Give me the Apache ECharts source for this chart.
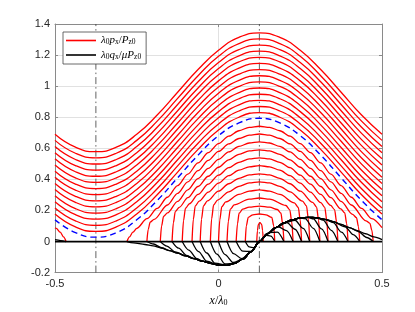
<!DOCTYPE html>
<html><head><meta charset="utf-8">
<script src="https://cdn.jsdelivr.net/npm/echarts@6/dist/echarts.min.js"></script>
<style>html,body{margin:0;padding:0;background:#fff}#c{width:415px;height:312px}</style>
</head><body><div id="c"></div>
<script>
// ---- data ----
const xGrid = [-0.5,-0.4375,-0.375,-0.3125,-0.25,-0.1875,-0.125,-0.0625,0,0.0625,0.125,0.1875,0.25,0.3125,0.375,0.4375,0.5];
// passing curves (lambda0 px / Pz0), bottom to top
const pxPassing = [
 [0.177,0.094,0.065,0.094,0.177,0.301,0.447,0.593,0.718,0.800,0.830,0.800,0.718,0.593,0.447,0.301,0.177],
 [0.216,0.133,0.104,0.133,0.216,0.340,0.487,0.633,0.757,0.840,0.869,0.840,0.757,0.633,0.487,0.340,0.216],
 [0.256,0.173,0.144,0.173,0.256,0.380,0.526,0.672,0.797,0.879,0.909,0.879,0.797,0.672,0.526,0.380,0.256],
 [0.295,0.212,0.183,0.212,0.295,0.419,0.566,0.712,0.836,0.919,0.948,0.919,0.836,0.712,0.566,0.419,0.295],
 [0.335,0.252,0.223,0.252,0.335,0.459,0.605,0.751,0.876,0.958,0.988,0.958,0.876,0.751,0.605,0.459,0.335],
 [0.374,0.291,0.262,0.291,0.374,0.498,0.645,0.791,0.915,0.998,1.027,0.998,0.915,0.791,0.645,0.498,0.374],
 [0.414,0.331,0.302,0.331,0.414,0.538,0.684,0.830,0.955,1.037,1.067,1.037,0.955,0.830,0.684,0.538,0.414],
 [0.453,0.370,0.341,0.370,0.453,0.577,0.724,0.870,0.994,1.077,1.106,1.077,0.994,0.870,0.724,0.577,0.453],
 [0.493,0.410,0.381,0.410,0.493,0.617,0.763,0.909,1.034,1.116,1.146,1.116,1.034,0.909,0.763,0.617,0.493],
 [0.532,0.449,0.420,0.449,0.532,0.656,0.803,0.949,1.073,1.156,1.185,1.156,1.073,0.949,0.803,0.656,0.532],
 [0.572,0.489,0.460,0.489,0.572,0.696,0.842,0.988,1.113,1.195,1.225,1.195,1.113,0.988,0.842,0.696,0.572],
 [0.611,0.528,0.499,0.528,0.611,0.735,0.882,1.028,1.152,1.235,1.264,1.235,1.152,1.028,0.882,0.735,0.611],
 [0.651,0.568,0.539,0.568,0.651,0.775,0.921,1.067,1.192,1.274,1.304,1.274,1.192,1.067,0.921,0.775,0.651],
 [0.690,0.607,0.578,0.607,0.690,0.814,0.961,1.107,1.231,1.314,1.343,1.314,1.231,1.107,0.961,0.814,0.690]
];
// blue dashed separating curve
const pxSeparatrix = [0.140,0.057,0.028,0.057,0.140,0.264,0.410,0.556,0.681,0.763,0.793,0.763,0.681,0.556,0.410,0.264,0.140];
// trapped curves [x, y]: rise from rest, follow the wave, fall back to zero
const pxTrapped = [
 [[-0.28,0],[-0.272,0.03],[-0.262,0.06],[-0.25,0.085],[-0.21875,0.147],[-0.1875,0.213],[-0.15625,0.285],[-0.125,0.36],[-0.09375,0.434],[-0.0625,0.506],[-0.03125,0.572],[0,0.63],[0.03125,0.678],[0.0625,0.713],[0.09375,0.735],[0.125,0.742],[0.15625,0.735],[0.1875,0.713],[0.21875,0.678],[0.25,0.63],[0.28125,0.572],[0.3125,0.506],[0.34375,0.434],[0.375,0.36],[0.40625,0.285],[0.4375,0.213],[0.46875,0.147],[0.5,0.089]],
 [[-0.219,0],[-0.215,0.078],[-0.209,0.125],[-0.197,0.142],[-0.15625,0.235],[-0.125,0.31],[-0.09375,0.384],[-0.0625,0.456],[-0.03125,0.522],[0,0.58],[0.03125,0.628],[0.0625,0.663],[0.09375,0.685],[0.125,0.692],[0.15625,0.685],[0.1875,0.663],[0.21875,0.628],[0.25,0.58],[0.28125,0.522],[0.3125,0.456],[0.34375,0.384],[0.375,0.31],[0.40625,0.235],[0.451,0.133],[0.463,0.117],[0.469,0.073],[0.473,0]],
 [[-0.178,0],[-0.174,0.101],[-0.168,0.162],[-0.156,0.184],[-0.125,0.2585],[-0.09375,0.333],[-0.0625,0.405],[-0.03125,0.471],[0,0.529],[0.03125,0.577],[0.0625,0.612],[0.09375,0.634],[0.125,0.641],[0.15625,0.634],[0.1875,0.612],[0.21875,0.577],[0.25,0.529],[0.28125,0.471],[0.3125,0.405],[0.34375,0.333],[0.375,0.2585],[0.41,0.175],[0.422,0.154],[0.428,0.096],[0.432,0]],
 [[-0.142,0],[-0.138,0.121],[-0.132,0.194],[-0.12,0.22],[-0.09375,0.282],[-0.0625,0.354],[-0.03125,0.42],[0,0.478],[0.03125,0.526],[0.0625,0.561],[0.09375,0.583],[0.125,0.59],[0.15625,0.583],[0.1875,0.561],[0.21875,0.526],[0.25,0.478],[0.28125,0.42],[0.3125,0.354],[0.34375,0.282],[0.374,0.21],[0.386,0.185],[0.392,0.116],[0.396,0]],
 [[-0.111,0],[-0.107,0.134],[-0.101,0.214],[-0.089,0.243],[-0.0625,0.303],[-0.03125,0.369],[0,0.427],[0.03125,0.475],[0.0625,0.51],[0.09375,0.532],[0.125,0.539],[0.15625,0.532],[0.1875,0.51],[0.21875,0.475],[0.25,0.427],[0.28125,0.369],[0.3125,0.303],[0.343,0.233],[0.355,0.205],[0.361,0.128],[0.365,0]],
 [[-0.081,0],[-0.077,0.143],[-0.071,0.229],[-0.059,0.26],[-0.03125,0.318],[0,0.376],[0.03125,0.424],[0.0625,0.459],[0.09375,0.481],[0.125,0.488],[0.15625,0.481],[0.1875,0.459],[0.21875,0.424],[0.25,0.376],[0.28125,0.318],[0.313,0.25],[0.325,0.22],[0.331,0.138],[0.335,0]],
 [[-0.056,0],[-0.052,0.144],[-0.046,0.23],[-0.034,0.261],[0,0.324],[0.03125,0.372],[0.0625,0.407],[0.09375,0.429],[0.125,0.436],[0.15625,0.429],[0.1875,0.407],[0.21875,0.372],[0.25,0.324],[0.288,0.252],[0.3,0.222],[0.306,0.139],[0.31,0]],
 [[-0.025,0],[-0.021,0.147],[-0.015,0.235],[-0.003,0.267],[0.03125,0.32],[0.0625,0.355],[0.09375,0.377],[0.125,0.384],[0.15625,0.377],[0.1875,0.355],[0.21875,0.32],[0.257,0.26],[0.269,0.229],[0.275,0.143],[0.279,0]],
 [[0,0],[0.004,0.14],[0.01,0.224],[0.022,0.255],[0.0625,0.303],[0.09375,0.325],[0.125,0.332],[0.15625,0.325],[0.1875,0.303],[0.232,0.249],[0.244,0.219],[0.25,0.137],[0.254,0]],
 [[0.026,0],[0.03,0.13],[0.036,0.208],[0.048,0.236],[0.09375,0.273],[0.125,0.28],[0.15625,0.273],[0.206,0.232],[0.218,0.204],[0.224,0.127],[0.228,0]],
 [[0.054,0],[0.058,0.114],[0.063,0.182],[0.074,0.208],[0.09375,0.221],[0.125,0.228],[0.15625,0.221],[0.18,0.206],[0.191,0.182],[0.196,0.114],[0.2,0]],
 [[0.082,0],[0.085,0.1],[0.091,0.155],[0.105,0.172],[0.125,0.177],[0.145,0.172],[0.163,0.155],[0.169,0.1],[0.172,0]],
 [[0.117,0],[0.119,0.07],[0.122,0.11],[0.127,0.122],[0.132,0.11],[0.135,0.07],[0.137,0]]
];
// end of the first trapped curve, re-entering at the left edge
const pxWrap = [[-0.5,0.089],[-0.496,0.085],[-0.484,0.06],[-0.474,0.03],[-0.466,0]];
// lambda0 qx / mu Pz0 : outer envelope of the black bundle
const qEnvelope = [[-0.3,-0.004],[-0.275,-0.007],[-0.25,-0.012],[-0.225,-0.019],[-0.2,-0.028],[-0.175,-0.042],[-0.15,-0.058],[-0.125,-0.075],[-0.1,-0.093],[-0.075,-0.11],[-0.05,-0.126],[-0.025,-0.14],[0,-0.151],[0.025,-0.153],[0.05,-0.14],[0.075,-0.112],[0.1,-0.065],[0.125,0],[0.15,0.05],[0.175,0.09],[0.2,0.12],[0.225,0.14],[0.25,0.152],[0.275,0.156],[0.3,0.153],[0.325,0.143],[0.35,0.128],[0.375,0.11],[0.4,0.09],[0.425,0.07],[0.45,0.05],[0.475,0.03],[0.5,0.012]];
// where each black curve leaves zero (left) and comes back to zero (right)
const qLeft = [
 [[-0.28,0],[-0.26,-0.009]],
 [[-0.219,0],[-0.199,-0.016],[-0.174,-0.04]],
 [[-0.178,0],[-0.158,-0.029],[-0.133,-0.066]],
 [[-0.142,0],[-0.122,-0.042],[-0.097,-0.09]],
 [[-0.111,0],[-0.091,-0.055],[-0.066,-0.11]],
 [[-0.081,0],[-0.061,-0.065],[-0.036,-0.127]],
 [[-0.056,0],[-0.036,-0.074],[-0.011,-0.139]],
 [[-0.025,0],[-0.005,-0.081],[0.02,-0.144]],
 [[0,0],[0.02,-0.084],[0.045,-0.135]],
 [[0.026,0],[0.046,-0.078],[0.071,-0.11]],
 [[0.054,0],[0.074,-0.062],[0.099,-0.064]],
 [[0.082,0],[0.094,-0.035],[0.108,-0.04]],
 [[0.117,0],[0.121,-0.008]]
];
const qRight = [
 [[0.5,0.012]],
 [[0.428,0.064],[0.453,0.026],[0.473,0]],
 [[0.387,0.095],[0.412,0.044],[0.432,0]],
 [[0.351,0.121],[0.376,0.06],[0.396,0]],
 [[0.32,0.138],[0.345,0.072],[0.365,0]],
 [[0.29,0.146],[0.315,0.081],[0.335,0]],
 [[0.265,0.147],[0.29,0.085],[0.31,0]],
 [[0.234,0.137],[0.259,0.084],[0.279,0]],
 [[0.209,0.121],[0.234,0.079],[0.254,0]],
 [[0.183,0.095],[0.208,0.07],[0.228,0]],
 [[0.155,0.058],[0.18,0.06],[0.2,0]],
 [[0.146,0.04],[0.16,0.035],[0.172,0]],
 [[0.13,0.008],[0.137,0]]
];
const qWrap = [[-0.5,0.012],[-0.483,0.006],[-0.466,0]];
const zeroLine = [[-0.5,0],[0.5,0]];
const markX = [-0.375, 0.125];
const xTicks = [-0.5, 0, 0.5];
const yTicks = [-0.2, 0, 0.2, 0.4, 0.6, 0.8, 1, 1.2, 1.4];

// ---- chart ----
const RED = '#ff0000', BLACK = '#000000', BLUE = '#0000ff';
const series = [];
markX.forEach(x => series.push({type:'line', data:[[x, yTicks[0]],[x, yTicks[yTicks.length-1]]], symbol:'none', silent:true,
  lineStyle:{color:'#3a3a3a', width:0.8, type:[7,3,1.5,3]}}));
pxPassing.forEach(arr => series.push({name:'px', type:'line', symbol:'none', smooth:true,
  data: xGrid.map((x,i)=>[x, arr[i]]), lineStyle:{color:RED, width:1.3}, itemStyle:{color:RED}}));
pxTrapped.concat([pxWrap]).forEach(pts => series.push({name:'px', type:'line', symbol:'none', smooth:0.3, smoothMonotone:'x',
  data: pts, lineStyle:{color:RED, width:1.3}, itemStyle:{color:RED}}));
series.push({name:'sep', type:'line', symbol:'none', smooth:true, data: xGrid.map((x,i)=>[x, pxSeparatrix[i]]),
  lineStyle:{color:BLUE, width:1.4, type:[6,4]}, itemStyle:{color:BLUE}});
series.push({name:'qx', type:'line', symbol:'none', data: zeroLine, lineStyle:{color:BLACK, width:1.8}, itemStyle:{color:BLACK}});
qLeft.forEach((L, j) => {
  const R = qRight[j];
  const a = L[L.length-1][0] + 0.012, b = R[0][0] - 0.012;
  const pts = L.concat(qEnvelope.filter(p => p[0] > a && p[0] < b), R);
  series.push({name:'qx', type:'line', symbol:'none', smooth:0.3, smoothMonotone:'x', data: pts,
    lineStyle:{color:BLACK, width:1.3}, itemStyle:{color:BLACK}});
});
series.push({name:'qx', type:'line', symbol:'none', smooth:0.3, data: qWrap, lineStyle:{color:BLACK, width:1.3}, itemStyle:{color:BLACK}});

const serif = 'Liberation Serif';
const rich = {
  n:{fontFamily:serif, fontSize:11, lineHeight:12, color:'#000'},
  i:{fontFamily:serif, fontStyle:'italic', fontSize:11, lineHeight:12, color:'#000'},
  s:{fontFamily:serif, fontSize:7.5, lineHeight:7, verticalAlign:'bottom', color:'#000'}
};
const axisCol = '#8a8a8a';
const fmt = v => String(parseFloat(Number(v).toFixed(2)));
const chart = echarts.init(document.getElementById('c'), null, {renderer:'canvas'});
chart.setOption({
  animation:false,
  backgroundColor:'#fff',
  grid:{left:55, right:33, top:24, bottom:32},
  legend:{data:['px','qx'], left:63, top:32, orient:'vertical', icon:'rect', itemWidth:30, itemHeight:1.6, itemGap:3,
    padding:[3,5,3,3], borderColor:'#444', borderWidth:0.8, backgroundColor:'#fff', selectedMode:false,
    formatter: n => n==='px' ? '{i|λ}{s|0}{i|p}{s|x}{n|/}{i|P}{s|z0}' : '{i|λ}{s|0}{i|q}{s|x}{n|/}{i|μP}{s|z0}',
    textStyle:{rich}},
  xAxis:[{type:'value', min:xTicks[0], max:xTicks[xTicks.length-1], interval:0.5,
      axisLine:{onZero:false, lineStyle:{color:axisCol, width:1}}, axisTick:{inside:true, length:3, lineStyle:{color:axisCol}},
      splitLine:{show:true, lineStyle:{color:'#e1e1e1', width:1}},
      axisLabel:{color:'#262626', fontFamily:'Liberation Sans', fontSize:11, margin:6, formatter:fmt},
      name:'{i|x}{n|/}{i|λ}{s|0}', nameLocation:'middle', nameGap:21,
      nameTextStyle:{rich:{i:{fontFamily:serif, fontStyle:'italic', fontSize:12, lineHeight:13, color:'#000'},
        n:{fontFamily:serif, fontSize:12, lineHeight:13, color:'#000'},
        s:{fontFamily:serif, fontSize:8, lineHeight:8, verticalAlign:'bottom', color:'#000'}}}},
    {type:'value', position:'top', min:xTicks[0], max:xTicks[xTicks.length-1], interval:0.5,
      axisLine:{show:true, onZero:false, lineStyle:{color:axisCol, width:1}}, axisTick:{inside:true, length:3, lineStyle:{color:axisCol}},
      axisLabel:{show:false}, splitLine:{show:false}}],
  yAxis:[{type:'value', min:yTicks[0], max:yTicks[yTicks.length-1], interval:0.2,
      axisLine:{show:true, onZero:false, lineStyle:{color:axisCol, width:1}}, axisTick:{show:true, inside:true, length:3, lineStyle:{color:axisCol}},
      splitLine:{show:true, lineStyle:{color:'#e1e1e1', width:1}},
      axisLabel:{color:'#262626', fontFamily:'Liberation Sans', fontSize:11, margin:5, formatter:fmt}},
    {type:'value', position:'right', min:yTicks[0], max:yTicks[yTicks.length-1], interval:0.2,
      axisLine:{show:true, onZero:false, lineStyle:{color:axisCol, width:1}}, axisTick:{show:true, inside:true, length:3, lineStyle:{color:axisCol}},
      axisLabel:{show:false}, splitLine:{show:false}}],
  series
});
</script></body></html>
